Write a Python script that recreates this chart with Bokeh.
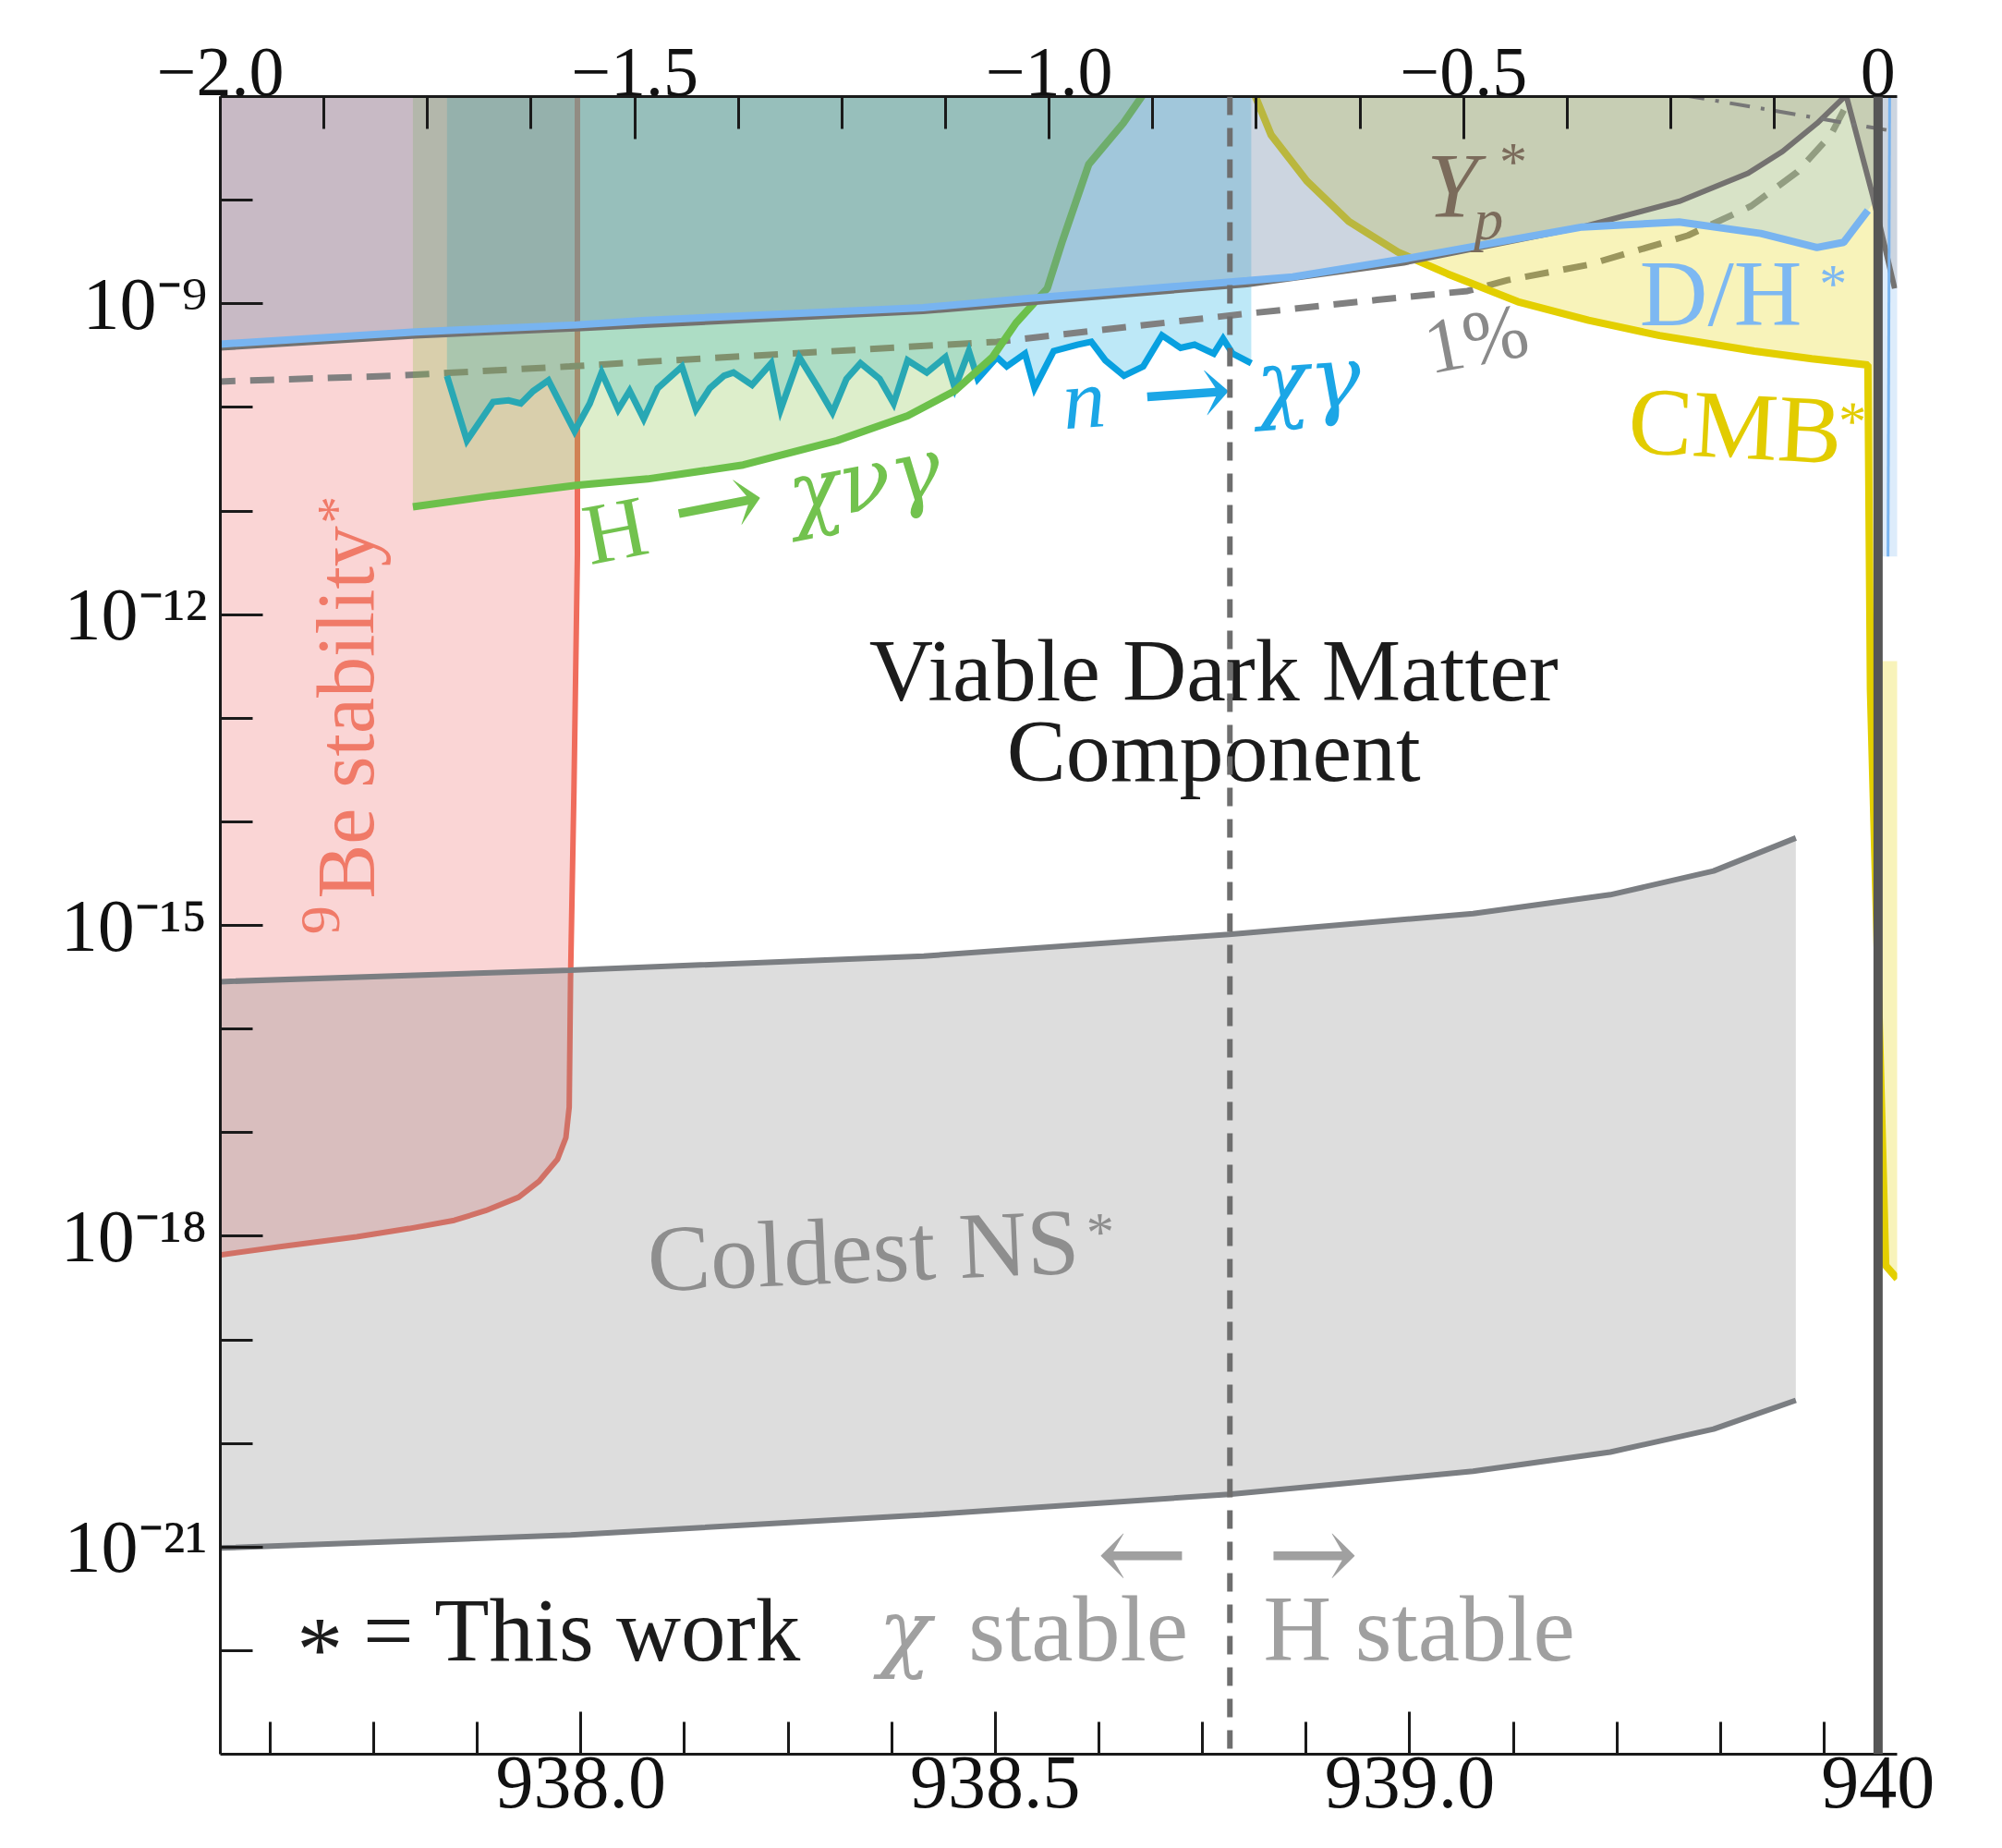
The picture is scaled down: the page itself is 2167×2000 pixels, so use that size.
import numpy as np
from bokeh.plotting import figure
from bokeh.models import Range1d, LinearAxis, FixedTicker, Span
from bokeh.embed import file_html
from bokeh.resources import INLINE
from bokeh.core.properties import value

FONT = "Liberation Serif"
GREEK_FONT = "DejaVu Serif"
ARROW_FONT = "DejaVu Serif"

# ------------------------------------------------------------------
# Axes: x = Delta = m_chi - m_n (MeV, top axis); bottom axis = m_chi (MeV)
# y = log scale, values stored as log10 exponents
# ------------------------------------------------------------------
M_N = 939.565
DELTA_PE = -0.782          # m_p + m_e - m_n  (chi stable | H stable)
DELTA_ZERO = 0.0           # m_chi = m_n
X_START, X_END = -2.0, 0.023
LOG_START, LOG_END = -23, -7

top_tick_values = [-2.0, -1.5, -1.0, -0.5, 0.0]
top_tick_labels = ["\u22122.0", "\u22121.5", "\u22121.0", "\u22120.5", "0"]
top_minor_ticks = [-1.875, -1.75, -1.625, -1.375, -1.25, -1.125, -0.875, -0.75,
                   -0.625, -0.375, -0.25, -0.125]
bottom_tick_values = [938.0, 938.5, 939.0, 939.565]
bottom_tick_labels = ["938.0", "938.5", "939.0", "940"]
bottom_minor_ticks = [937.625, 937.75, 937.875, 938.125, 938.25, 938.375, 938.625,
                      938.75, 938.875, 939.125, 939.25, 939.375, 939.5]
y_tick_values = [1e-21, 1e-18, 1e-15, 1e-12, 1e-9]
y_tick_labels = ["10\u207b\u00b2\u00b9", "10\u207b\u00b9\u2078", "10\u207b\u00b9\u2075",
                 "10\u207b\u00b9\u00b2", "10\u207b\u2079"]
y_minor_ticks = [1e-22, 1e-20, 1e-19, 1e-17, 1e-16, 1e-14, 1e-13, 1e-11, 1e-10, 1e-8]

# D/H* bound (blue)
dh_delta = [-2.0108, -1.7646, -1.5708, -1.4862, -1.1523, -1.0292, -0.7615, -0.7062,
            -0.5723, -0.3569, -0.2400, -0.1415, -0.0738, -0.0415, -0.0123]
dh_log = [-9.395, -9.272, -9.204, -9.160, -9.037, -8.951, -8.778, -8.741,
          -8.568, -8.259, -8.210, -8.321, -8.457, -8.407, -8.099]
dh_right_delta = [0.014, 0.012]
dh_right_log = [-6.9, -11.44]

# Y_p* bound (dark grey)
yp_delta = [-2.0108, -1.7646, -1.5708, -1.1523, -0.7615, -0.5723, -0.3569, -0.2400,
            -0.1569, -0.1154, -0.0738, -0.0385, -0.0062, 0.0200]
yp_log = [-9.432, -9.309, -9.241, -9.074, -8.815, -8.605, -8.259, -8.012,
          -7.741, -7.531, -7.259, -6.988, -7.963, -8.852]

# CMB* bound (yellow)
cmb_delta = [-0.7538, -0.7323, -0.6892, -0.6385, -0.5791, -0.5192, -0.4345, -0.3492,
             -0.2637, -0.2052, -0.1492, -0.0800, -0.0123, -0.0092, 0.0092, 0.0230]
cmb_log = [-6.95, -7.370, -7.815, -8.206, -8.502, -8.712, -8.980, -9.160,
           -9.307, -9.383, -9.457, -9.531, -9.590, -12.728, -18.284, -18.41]

# H -> chi nu gamma (green)
green_delta = [-1.7677, -1.6708, -1.5708, -1.4846, -1.3692, -1.2560, -1.1708, -1.1138,
               -1.0685, -1.0400, -1.0023, -0.9846, -0.9523, -0.9360, -0.9108, -0.8862]
green_log = [-10.960, -10.852, -10.753, -10.691, -10.556, -10.321, -10.081, -9.840,
             -9.516, -9.185, -8.852, -8.407, -7.654, -7.498, -7.259, -6.975]

# n -> chi gamma (blue, noisy)
nchg_delta = [-1.7266, -1.7025, -1.6709, -1.6523, -1.6375, -1.6226, -1.6042, -1.5726,
              -1.5543, -1.5400, -1.5200, -1.5062, -1.4892, -1.4723, -1.4431, -1.4262,
              -1.4094, -1.3923, -1.3809, -1.3585, -1.3354, -1.3240, -1.3015, -1.2785,
              -1.2615, -1.2446, -1.2277, -1.2046, -1.1877, -1.1708, -1.1477, -1.1252,
              -1.1138, -1.0969, -1.0862, -1.0631, -1.0512, -1.0292, -1.0177, -0.9946,
              -0.9662, -0.9492, -0.9323, -0.9098, -0.8866, -0.8640, -0.8415, -0.8246,
              -0.8015, -0.7902, -0.7788, -0.7562]
nchg_log = [-9.695, -10.320, -9.948, -9.932, -9.963, -9.843, -9.740, -10.231,
            -9.963, -9.663, -10.021, -9.840, -10.111, -9.815, -9.605, -10.021,
            -9.815, -9.695, -9.663, -9.784, -9.574, -10.021, -9.516, -9.815,
            -10.049, -9.725, -9.574, -9.725, -9.963, -9.546, -9.663, -9.516,
            -9.815, -9.457, -9.725, -9.516, -9.605, -9.481, -9.815, -9.457,
            -9.395, -9.367, -9.546, -9.695, -9.605, -9.305, -9.426, -9.395,
            -9.481, -9.337, -9.481, -9.574]

# 9Be stability* (red)
be_delta = [-1.5692, -1.5692, -1.5734, -1.5775, -1.5791, -1.5831, -1.5931, -1.6154,
            -1.6400, -1.6800, -1.7178, -1.7723, -1.8354, -1.9262, -2.0069, -2.0200]
be_log = [-6.9, -11.420, -13.700, -15.519, -16.753, -17.049, -17.256, -17.469,
          -17.623, -17.753, -17.847, -17.926, -18.005, -18.099, -18.189, -18.210]

# Coldest NS* band (grey)
ns_delta = [-2.0, -1.5775, -1.1514, -0.7831, -0.4886, -0.3231, -0.1985, -0.0992]
ns_upper_log = [-15.543, -15.432, -15.296, -15.086, -14.886, -14.704, -14.475, -14.156]
ns_lower_log = [-21.010, -20.883, -20.691, -20.491, -20.269, -20.084, -19.862, -19.584]

# 1% dashed line
one_pct_delta = [-2.0108, -1.7897, -1.5785, -1.4854, -1.0631, -0.7846, -0.6046, -0.4954,
                 -0.4468, -0.3488, -0.2292, -0.1532, -0.0975, -0.0569, -0.0400, -0.0360]
one_pct_log = [-9.753, -9.695, -9.605, -9.560, -9.367, -9.115, -8.963, -8.877,
               -8.772, -8.622, -8.340, -8.057, -7.728, -7.370, -7.111, -6.95]

# dash-dot line at top right
dashdot_delta = [-0.2338, 0.023]
dashdot_log = [-6.988, -7.34]

TOP_LOG = -6.9      # just above the frame, used to close the excluded regions


def pw(a):
    return [10.0 ** v for v in a]


FRAME_W, FRAME_H = 1815, 1794
p = figure(width=2159, height=1992,
           x_range=Range1d(X_START, X_END), y_range=Range1d(10.0 ** LOG_START, 10.0 ** LOG_END),
           y_axis_type="log", x_axis_location="above",
           output_backend="svg", toolbar_location=None,
           min_border_left=238, min_border_right=2159 - 238 - FRAME_W,
           min_border_top=104, min_border_bottom=1992 - 104 - FRAME_H)
p.extra_x_ranges = {"m": Range1d(X_START + M_N, X_END + M_N)}
p.xgrid.visible = False
p.ygrid.visible = False
p.outline_line_color = None
p.background_fill_color = "white"
p.border_fill_color = "white"


def style_axis(ax, size, standoff):
    ax.axis_line_color = "#1a1a1a"
    ax.axis_line_width = 3
    ax.major_tick_line_color = "#1a1a1a"
    ax.major_tick_line_width = 3
    ax.minor_tick_line_color = "#1a1a1a"
    ax.minor_tick_line_width = 3
    ax.major_tick_in = 46
    ax.major_tick_out = 0
    ax.minor_tick_in = 35
    ax.minor_tick_out = 0
    ax.major_label_text_font = FONT
    ax.major_label_text_font_size = size
    ax.major_label_text_color = "#111111"
    ax.major_label_standoff = standoff


top_ax = p.xaxis[0]
top_ax.ticker = FixedTicker(ticks=top_tick_values, minor_ticks=top_minor_ticks)
top_ax.major_label_overrides = dict(zip(top_tick_values, top_tick_labels))
style_axis(top_ax, "76px", 2)

bottom_ax = LinearAxis(x_range_name="m",
                       ticker=FixedTicker(ticks=bottom_tick_values, minor_ticks=bottom_minor_ticks))
bottom_ax.major_label_overrides = dict(zip(bottom_tick_values, bottom_tick_labels))
style_axis(bottom_ax, "82px", 3)
p.add_layout(bottom_ax, "below")

left_ax = p.yaxis[0]
left_ax.ticker = FixedTicker(ticks=y_tick_values, minor_ticks=y_minor_ticks)
left_ax.major_label_overrides = dict(zip(y_tick_values, y_tick_labels))
style_axis(left_ax, "80px", 14)

# ---------------- regions & curves (back to front) ----------------
# 9Be stability
p.patch(be_delta + [-2.03], pw(be_log + [TOP_LOG]), fill_color="#f08080", fill_alpha=0.33, line_color=None)
p.line(be_delta, pw(be_log), line_color="#ef6c5c", line_width=6)

# Coldest NS band
p.patch(ns_delta + ns_delta[::-1], pw(ns_upper_log + ns_lower_log[::-1]),
        fill_color="#808080", fill_alpha=0.27, line_color=None)
p.line(ns_delta, pw(ns_upper_log), line_color="#7b7e82", line_width=6)
p.line(ns_delta, pw(ns_lower_log), line_color="#7b7e82", line_width=6)

# n -> chi gamma region
p.patch(nchg_delta + [nchg_delta[-1], nchg_delta[0]], pw(nchg_log + [TOP_LOG, TOP_LOG]),
        fill_color="#00a8e0", fill_alpha=0.26, line_color=None)
# 1% line
p.line(one_pct_delta, pw(one_pct_log), line_color="#808080", line_width=7, line_dash="26 16")
p.line(nchg_delta, pw(nchg_log), line_color="#08a0e0", line_width=7, line_join="miter")

# H -> chi nu gamma
p.patch(green_delta + [green_delta[0]], pw(green_log + [TOP_LOG]),
        fill_color="#80c040", fill_alpha=0.27, line_color=None)
p.line(green_delta, pw(green_log), line_color="#6cc04a", line_width=8)

# CMB*
cmb_fill_x = cmb_delta + [0.03, 0.03, 0.004, 0.004]
cmb_fill_y = cmb_log + [-18.41, -12.45, -12.45, TOP_LOG]
p.patch(cmb_fill_x, pw(cmb_fill_y), fill_color="#e6d200", fill_alpha=0.27, line_color=None)
p.line(cmb_delta, pw(cmb_log), line_color="#e3cf00", line_width=8)

# D/H*
dh_fill_x = dh_delta + [-0.004, 0.004, 0.03, 0.03, -2.03]
dh_fill_y = dh_log + [-8.0, -11.44, -11.44, TOP_LOG, TOP_LOG]
p.patch(dh_fill_x, pw(dh_fill_y), fill_color="#78b4f0", fill_alpha=0.25, line_color=None)

# Y_p*
p.patch(yp_delta + [0.03, 0.03, -2.03], pw(yp_log + [-8.852, TOP_LOG, TOP_LOG]),
        fill_color="#6b5a4a", fill_alpha=0.15, line_color=None)
p.line(yp_delta, pw(yp_log), line_color="#747270", line_width=6)

p.line(dh_delta, pw(dh_log), line_color="#78b4f0", line_width=8)
p.line(dh_right_delta, pw(dh_right_log), line_color="#78b4f0", line_width=3)

# reference lines
p.add_layout(Span(location=DELTA_PE, dimension="height", line_color="#6e6e6e",
                  line_width=6, line_dash="20 14"))
p.line(dashdot_delta, pw(dashdot_log), line_color="#777777", line_width=4, line_dash="22 12 4 12")
p.add_layout(Span(location=DELTA_ZERO, dimension="height", line_color="#565656", line_width=10))

# ---------------- text labels ----------------
PX_PER_DECADE = FRAME_H / (LOG_END - LOG_START)
DELTA_PER_PX = (X_END - X_START) / FRAME_W
BASELINE_SHIFT = 0.34   # em: the page draws the anchor at mid-height of the font box


def label(x, ylog, text, size, color, align="left", angle_deg=0.0, style="normal", font=FONT):
    th = np.deg2rad(angle_deg)
    up = BASELINE_SHIFT * size
    x_adj = x - up * np.sin(th) * DELTA_PER_PX
    y_adj = ylog + up * np.cos(th) / PX_PER_DECADE
    p.text(x=[x_adj], y=[10.0 ** y_adj], text=[text], text_font=value(font),
           text_font_size=f"{size}px", text_color=color, text_align=align,
           text_baseline="alphabetic", angle=float(th), text_font_style=style)


label(-0.8015, -12.827, "Viable Dark Matter", 96, "#1c1c1c", align="center")
label(-0.8015, -13.605, "Component", 96, "#1c1c1c", align="center")

label(-1.483, -18.531, "Coldest NS", 102, "#8e8e8e", angle_deg=2.4)
label(-0.9538, -18.148, "*", 60, "#8e8e8e", angle_deg=2.4)

label(-1.8154, -14.741, "Be stability", 88, "#f07a68", angle_deg=90)
label(-1.8554, -15.086, "9", 62, "#f07a68", angle_deg=90)
label(-1.8369, -11.123, "*", 60, "#f07a68", angle_deg=90)

label(-1.5538, -11.519, "H", 94, "#72c24e", angle_deg=11)
label(-1.4462, -11.37, "\u2192", 120, "#72c24e", angle_deg=11, font=ARROW_FONT)
label(-1.3077, -11.123, "\u03c7\u03bd\u03b3", 92, "#72c24e", angle_deg=11, style="italic", font=GREEK_FONT)

label(-0.9815, -10.210, "n", 92, "#1ba6e6", angle_deg=4, style="italic")
label(-0.8862, -10.235, "\u2192", 118, "#1ba6e6", angle_deg=4, font=ARROW_FONT)
label(-0.7477, -10.049, "\u03c7\u03b3", 94, "#1ba6e6", angle_deg=4, style="italic", font=GREEK_FONT)

label(-0.54, -9.679, "1%", 84, "#8a8a8a", angle_deg=11)

label(-0.5446, -8.160, "Y", 100, "#7b6b5b", style="italic")
label(-0.4877, -8.383, "p", 64, "#7b6b5b", style="italic")
label(-0.4569, -7.815, "*", 60, "#7b6b5b")

label(-0.2877, -9.210, "D/H", 102, "#7db8f2")
label(-0.0708, -8.988, "*", 60, "#7db8f2")

label(-0.303, -10.432, "CMB", 104, "#e2cc00", angle_deg=-3)
label(-0.0492, -10.309, "*", 60, "#e2cc00", angle_deg=-3)

label(-1.9077, -22.284, "*", 100, "#1c1c1c")
label(-1.8277, -22.099, "= This work", 97, "#1c1c1c")
label(-1.2062, -22.099, "\u03c7", 94, "#a0a0a0", style="italic", font=GREEK_FONT)
label(-0.8323, -22.099, "stable", 102, "#a0a0a0", align="right")
label(-0.7415, -22.099, "H stable", 102, "#a0a0a0")
label(-0.8323, -21.415, "\u2190", 118, "#a0a0a0", align="right", font=ARROW_FONT)
label(-0.7369, -21.415, "\u2192", 118, "#a0a0a0", font=ARROW_FONT)

open("out.html", "w").write(file_html(p, INLINE))
